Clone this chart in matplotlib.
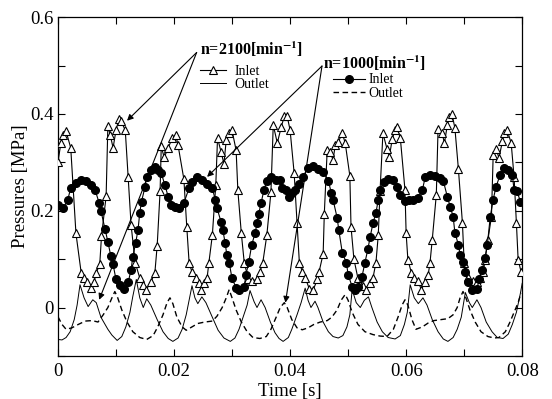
import matplotlib
matplotlib.use("Agg")
import matplotlib.pyplot as plt
import numpy as np

plt.rcParams["font.family"] = ["Liberation Serif", "DejaVu Serif"]
plt.rcParams["mathtext.fontset"] = "stix"

# time in ms, pressure in MPa
t_in_2100 = [0.0, 0.5, 0.9, 1.4, 2.2, 3.1, 4.0, 4.5, 5.0, 5.7, 6.2, 6.6, 7.2, 7.5, 8.3,
             8.6, 9.0, 9.5, 10.0, 10.5, 10.9, 11.6, 12.1, 12.6, 13.3, 14.1, 14.7, 15.2,
             16.0, 16.7, 17.1, 17.6, 17.8, 18.3, 19.0, 19.7, 20.3, 20.7, 21.7, 22.2,
             22.6, 23.1, 23.8, 24.3, 24.7, 25.2, 25.7, 26.0, 26.6, 27.2, 27.5, 28.1,
             28.6, 29.0, 29.5, 30.0, 30.7, 31.0, 31.6, 32.1, 32.8, 33.5, 34.3, 34.8,
             35.3, 36.0, 36.7, 37.1, 37.8, 38.5, 39.0, 39.5, 40.0, 40.7, 41.2, 41.6,
             42.1, 42.6, 43.3, 44.0, 44.7, 45.0, 45.7, 45.9, 46.4, 46.9, 47.4, 47.8,
             48.3, 49.0, 49.5, 50.3, 50.5, 51.0, 51.7, 52.6, 53.1, 53.8, 54.3, 54.8,
             55.2, 55.5, 56.0, 56.7, 57.1, 57.6, 58.1, 58.4, 59.0, 59.8, 60.0, 60.3,
             60.9, 61.4, 62.1, 62.6, 63.3, 63.8, 64.1, 64.5, 65.2, 65.5, 66.2, 66.6,
             67.1, 67.4, 67.9, 68.4, 69.0, 69.7, 70.0, 70.7, 71.6, 72.2, 72.8, 73.3,
             73.6, 74.1, 74.7, 75.0, 75.5, 76.0, 76.6, 76.9, 77.4, 78.1, 78.6, 79.0,
             79.3, 79.8]
p_in_2100 = [0.300, 0.340, 0.357, 0.364, 0.330, 0.153, 0.072, 0.060, 0.052, 0.040, 0.052,
             0.072, 0.089, 0.147, 0.230, 0.375, 0.357, 0.330, 0.366, 0.390, 0.385, 0.366,
             0.270, 0.171, 0.093, 0.061, 0.047, 0.037, 0.052, 0.072, 0.128, 0.240, 0.333,
             0.310, 0.330, 0.350, 0.357, 0.335, 0.265, 0.166, 0.093, 0.073, 0.061, 0.051,
             0.037, 0.051, 0.061, 0.092, 0.149, 0.254, 0.350, 0.322, 0.297, 0.346, 0.360,
             0.366, 0.325, 0.242, 0.153, 0.093, 0.059, 0.054, 0.059, 0.073, 0.093, 0.150,
             0.238, 0.377, 0.340, 0.374, 0.395, 0.395, 0.367, 0.278, 0.175, 0.093, 0.074,
             0.062, 0.039, 0.037, 0.058, 0.074, 0.111, 0.194, 0.326, 0.322, 0.305, 0.336,
             0.342, 0.360, 0.340, 0.272, 0.167, 0.100, 0.060, 0.045, 0.037, 0.050, 0.062,
             0.093, 0.150, 0.240, 0.360, 0.328, 0.311, 0.348, 0.367, 0.373, 0.350, 0.243,
             0.153, 0.099, 0.072, 0.060, 0.054, 0.037, 0.052, 0.068, 0.091, 0.140, 0.233,
             0.369, 0.360, 0.340, 0.377, 0.394, 0.400, 0.371, 0.287, 0.175, 0.093, 0.064,
             0.054, 0.052, 0.060, 0.074, 0.099, 0.140, 0.188, 0.315, 0.328, 0.309, 0.344,
             0.360, 0.367, 0.340, 0.270, 0.175, 0.099, 0.074]

t_out_2100 = [0.0, 0.7, 1.4, 2.1, 2.8, 3.3, 3.8, 4.5, 5.2, 6.0, 6.6, 7.4, 8.6, 9.3, 10.2,
              11.0, 11.7, 12.4, 12.9, 13.5, 14.1, 14.7, 15.3, 16.0, 17.1, 18.1, 19.0, 19.8,
              20.7, 21.4, 22.1, 22.6, 23.1, 23.6, 24.1, 24.8, 25.5, 26.6, 27.6, 28.6, 29.7,
              30.5, 31.2, 31.9, 32.6, 33.1, 33.8, 34.3, 35.0, 35.7, 36.6, 37.4, 38.1, 38.8,
              39.7, 40.3, 41.2, 41.9, 42.6, 43.1, 43.6, 44.3, 44.8, 45.7, 46.6, 47.4, 48.3,
              49.1, 49.8, 50.3, 50.7, 51.4, 52.1, 52.8, 53.5, 54.1, 55.0, 55.9, 56.9, 58.1,
              59.0, 59.7, 60.2, 60.7, 61.4, 62.1, 62.9, 63.6, 64.5, 65.5, 66.4, 67.2, 68.1,
              68.8, 69.5, 70.2, 70.9, 71.4, 72.2, 72.9, 73.8, 74.8, 75.7, 76.7, 77.6, 78.3,
              79.0, 79.7, 80.0]
p_out_2100 = [-0.066, -0.067, -0.062, -0.050, -0.025, 0.005, 0.047, 0.020, 0.002, 0.016,
              0.010, -0.020, -0.045, -0.057, -0.068, -0.060, -0.040, -0.010, 0.023, 0.058,
              0.020, 0.000, 0.018, 0.005, -0.025, -0.050, -0.064, -0.070, -0.063, -0.045,
              -0.015, 0.015, 0.045, 0.020, 0.008, 0.022, 0.010, -0.020, -0.047, -0.063,
              -0.070, -0.063, -0.045, -0.020, 0.005, 0.035, 0.012, 0.000, 0.016, 0.000,
              -0.030, -0.052, -0.064, -0.070, -0.062, -0.045, -0.015, 0.010, 0.040, 0.015,
              0.000, 0.013, 0.000, -0.030, -0.050, -0.060, -0.063, -0.058, -0.040, -0.015,
              0.037, 0.010, 0.000, 0.015, 0.022, 0.000, -0.030, -0.050, -0.062, -0.065,
              -0.058, -0.035, -0.010, 0.047, 0.020, 0.008, 0.020, 0.005, -0.025, -0.050,
              -0.065, -0.070, -0.062, -0.045, -0.020, 0.031, 0.010, 0.000, 0.016, 0.000,
              -0.030, -0.050, -0.062, -0.064, -0.055, -0.035, -0.010, 0.030, 0.050]

t_in_1000 = [0.0, 0.9, 1.7, 2.2, 3.1, 4.0, 4.8, 5.7, 6.4, 7.1, 7.4, 8.1, 8.6, 9.1, 9.5,
             10.0, 10.7, 11.4, 12.1, 12.6, 12.9, 13.4, 13.8, 14.1, 14.4, 15.0, 15.3, 16.0,
             16.7, 17.2, 17.8, 18.4, 19.0, 19.5, 20.2, 20.9, 21.7, 22.6, 23.1, 24.0, 24.8,
             25.7, 26.6, 27.1, 27.4, 28.1, 28.4, 28.8, 29.1, 29.5, 30.0, 30.7, 31.2, 32.1,
             32.4, 32.9, 33.4, 34.0, 34.3, 34.6, 35.0, 35.5, 36.0, 36.7, 37.6, 38.3, 38.6,
             39.3, 39.8, 40.3, 40.9, 41.6, 42.2, 43.1, 44.0, 44.8, 45.7, 46.6, 47.1, 47.4,
             48.1, 48.4, 49.0, 49.7, 50.0, 50.7, 51.2, 51.7, 52.4, 52.9, 53.4, 53.8, 54.3,
             54.8, 55.2, 55.5, 56.2, 56.9, 57.8, 58.4, 59.0, 59.8, 60.5, 61.2, 62.1, 62.8,
             63.3, 64.1, 65.0, 65.9, 66.4, 67.1, 67.6, 68.1, 68.4, 69.0, 69.3, 69.8, 70.2,
             70.7, 71.4, 72.2, 72.6, 73.1, 73.6, 74.0, 74.5, 75.0, 75.5, 76.2, 76.9, 77.6,
             78.3, 78.6, 79.1, 79.7]
p_in_1000 = [0.212, 0.205, 0.223, 0.247, 0.258, 0.264, 0.262, 0.254, 0.243, 0.216, 0.200,
             0.163, 0.136, 0.107, 0.089, 0.058, 0.047, 0.039, 0.052, 0.078, 0.105, 0.134,
             0.161, 0.196, 0.219, 0.249, 0.270, 0.285, 0.291, 0.285, 0.278, 0.254, 0.229,
             0.212, 0.208, 0.205, 0.216, 0.247, 0.260, 0.270, 0.264, 0.256, 0.247, 0.223,
             0.206, 0.177, 0.161, 0.134, 0.109, 0.093, 0.060, 0.041, 0.037, 0.043, 0.068,
             0.095, 0.130, 0.155, 0.175, 0.194, 0.216, 0.243, 0.262, 0.270, 0.264, 0.264,
             0.247, 0.243, 0.229, 0.236, 0.243, 0.255, 0.270, 0.289, 0.293, 0.287, 0.281,
             0.262, 0.237, 0.223, 0.186, 0.160, 0.113, 0.093, 0.068, 0.043, 0.037, 0.043,
             0.064, 0.093, 0.120, 0.146, 0.175, 0.196, 0.223, 0.243, 0.260, 0.266, 0.264,
             0.250, 0.233, 0.220, 0.222, 0.223, 0.227, 0.243, 0.270, 0.274, 0.272, 0.268,
             0.262, 0.229, 0.208, 0.188, 0.155, 0.130, 0.109, 0.095, 0.074, 0.052, 0.037,
             0.039, 0.058, 0.078, 0.103, 0.130, 0.188, 0.223, 0.250, 0.274, 0.289, 0.285,
             0.274, 0.243, 0.240, 0.219]

t_out_1000 = [0.0, 0.7, 1.4, 2.4, 3.5, 4.7, 5.9, 6.9, 7.8, 8.6, 9.3, 9.8, 10.3, 11.0, 11.9,
              12.9, 14.1, 15.3, 16.4, 17.2, 18.1, 18.8, 19.3, 19.8, 20.5, 21.4, 22.1, 23.1,
              24.1, 25.3, 26.6, 27.4, 28.3, 29.0, 29.5, 30.0, 30.7, 31.6, 32.6, 33.6, 34.8,
              35.9, 36.7, 37.6, 38.3, 39.0, 39.5, 40.3, 41.2, 42.1, 43.1, 44.1, 45.2, 46.4,
              47.2, 48.1, 48.8, 49.5, 50.0, 50.7, 51.7, 52.9, 54.3, 55.5, 56.7, 57.8, 58.6,
              59.3, 59.8, 60.3, 61.0, 61.7, 62.8, 63.8, 64.8, 66.0, 67.2, 68.1, 68.8, 69.3,
              69.8, 70.3, 71.0, 71.9, 72.9, 74.1, 75.2, 76.0, 77.1, 77.9, 78.6, 79.3, 79.8]
p_out_1000 = [-0.019, -0.035, -0.045, -0.042, -0.035, -0.028, -0.027, -0.030, -0.015, 0.000,
              0.020, 0.033, 0.020, -0.005, -0.030, -0.050, -0.062, -0.066, -0.058, -0.040,
              -0.015, 0.010, 0.020, 0.008, -0.020, -0.040, -0.047, -0.040, -0.033, -0.030,
              -0.028, -0.018, 0.000, 0.020, 0.037, 0.020, -0.005, -0.030, -0.050, -0.062,
              -0.064, -0.060, -0.045, -0.020, 0.000, 0.010, 0.000, -0.025, -0.042, -0.046,
              -0.042, -0.035, -0.030, -0.027, -0.020, -0.005, 0.015, 0.027, 0.015, -0.010,
              -0.035, -0.050, -0.056, -0.059, -0.060, -0.045, -0.020, 0.005, 0.016, 0.005,
              -0.025, -0.045, -0.040, -0.032, -0.027, -0.025, -0.023, -0.015, 0.000, 0.020,
              0.033, 0.020, -0.005, -0.030, -0.050, -0.060, -0.063, -0.062, -0.050, -0.030,
              -0.010, 0.010, 0.030]

x_ticks = [0, 0.02, 0.04, 0.06, 0.08]
x_tick_labels = ["0", "0.02", "0.04", "0.06", "0.08"]
y_ticks = [0, 0.2, 0.4, 0.6]
y_tick_labels = ["0", "0.2", "0.4", "0.6"]


def sec(ms):
    return np.asarray(ms) / 1000.0


fig = plt.figure(figsize=(5.52, 3.99), dpi=100)
ax = fig.add_axes([0.105, 0.108, 0.841, 0.849])

l1, = ax.plot(sec(t_in_2100), p_in_2100, color="k", lw=0.8, marker="^", ms=6,
              mfc="white", mec="k", mew=0.8, label="Inlet", zorder=3)
l2, = ax.plot(sec(t_out_2100), p_out_2100, color="k", lw=0.7, label="Outlet")
l3, = ax.plot(sec(t_in_1000), p_in_1000, color="k", lw=0.8, marker="o", ms=5.5,
              mfc="k", mec="k", label="Inlet", zorder=4)
l4, = ax.plot(sec(t_out_1000), p_out_1000, color="k", lw=1.0, ls=(0, (4, 2.5)),
              label="Outlet")

ax.set_xlim(0, 0.08)
ax.set_ylim(-0.1, 0.6)
ax.set_xticks(x_ticks)
ax.set_xticklabels(x_tick_labels)
ax.set_xticks([0.01, 0.03, 0.05, 0.07], minor=True)
ax.set_yticks(y_ticks)
ax.set_yticklabels(y_tick_labels)
ax.set_yticks([-0.1, 0.1, 0.3, 0.5], minor=True)
ax.tick_params(which="both", direction="in", top=True, right=True, length=5,
               width=0.8, labelsize=13.5, pad=3)
ax.tick_params(axis="x", pad=5)
for s in ax.spines.values():
    s.set_linewidth(0.9)

ax.set_xlabel("Time [s]", fontsize=13.5, labelpad=2)
ax.set_ylabel("Pressures [MPa]", fontsize=13.5, labelpad=1)

arrow = dict(arrowstyle="-|>", lw=0.8, color="k", mutation_scale=9,
             shrinkA=0, shrinkB=0)
# n=2100 labels
ax.annotate("", xy=(0.0119, 0.386), xytext=(0.0239, 0.527), arrowprops=arrow)
ax.annotate("", xy=(0.0071, 0.016), xytext=(0.0239, 0.527), arrowprops=arrow)
ax.text(0.0245, 0.534, r"n=2100[min$^{\mathbf{-1}}$]", fontsize=11.5,
        fontweight="bold", va="center", ha="left")
# n=1000 labels
ax.annotate("", xy=(0.0257, 0.270), xytext=(0.0455, 0.499), arrowprops=arrow)
ax.annotate("", xy=(0.0392, 0.010), xytext=(0.0455, 0.499), arrowprops=arrow)
ax.text(0.0457, 0.505, r"n=1000[min$^{\mathbf{-1}}$]", fontsize=11.5,
        fontweight="bold", va="center", ha="left")

leg1 = ax.legend(handles=[l1, l2], loc="upper left", bbox_to_anchor=(0.306, 0.86),
                 frameon=False, fontsize=10, handlelength=1.9, handletextpad=0.55,
                 labelspacing=0.05, borderpad=0, borderaxespad=0, numpoints=1)
ax.add_artist(leg1)
ax.legend(handles=[l3, l4], loc="upper left", bbox_to_anchor=(0.593, 0.834),
          frameon=False, fontsize=10, handlelength=2.3, handletextpad=0.25,
          labelspacing=0.05, borderpad=0, borderaxespad=0, numpoints=1)

fig.savefig("out.png", dpi=100)
